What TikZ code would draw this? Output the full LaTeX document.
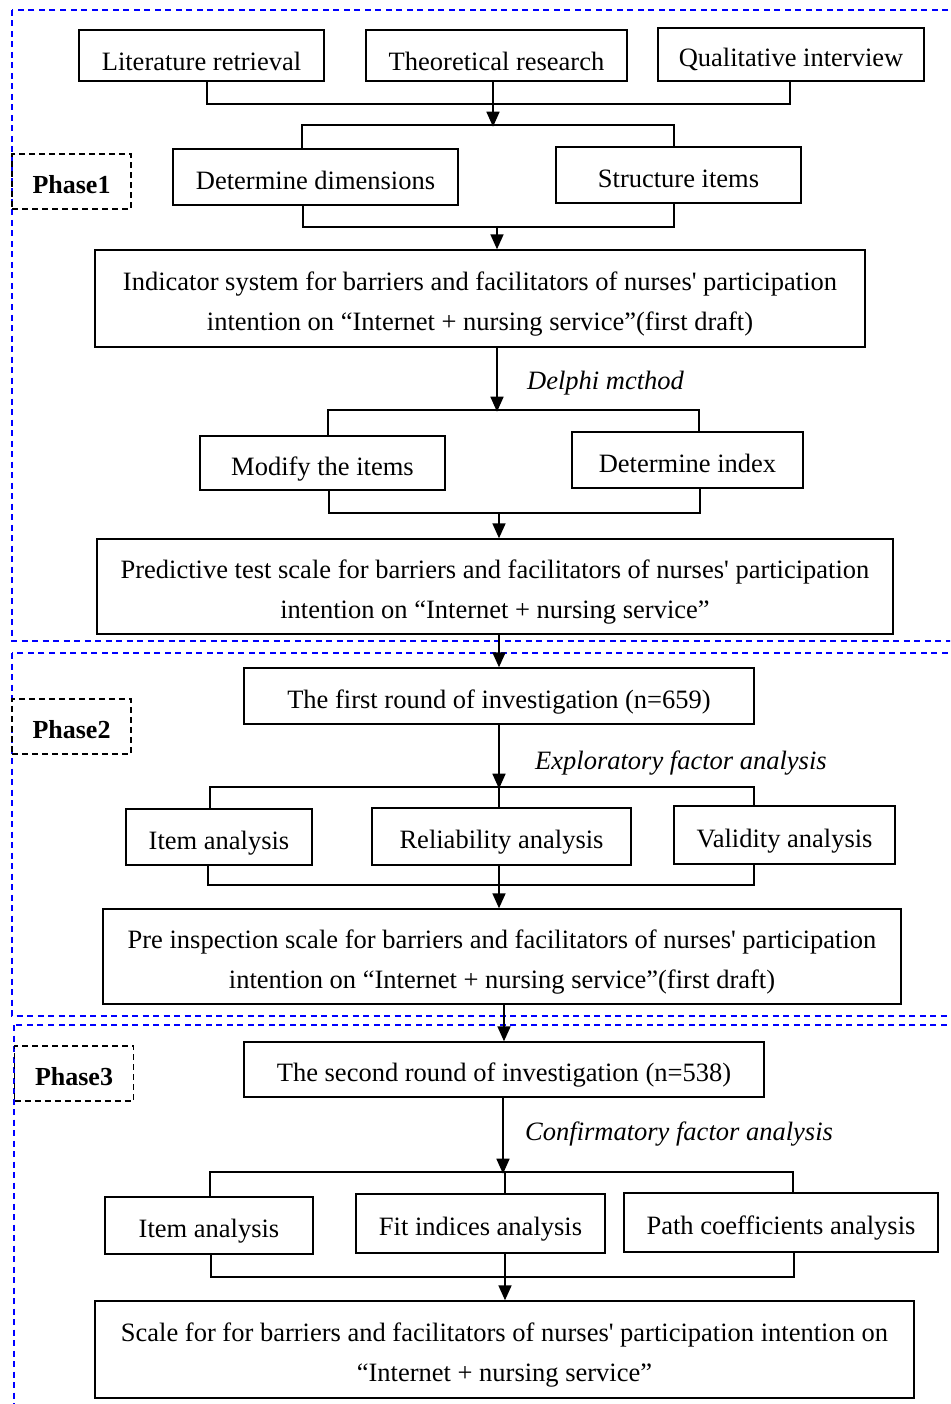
\documentclass[tikz,border=0pt]{standalone}
\usepackage{fontspec}
\newfontfamily\tnr{Liberation Serif}
\usetikzlibrary{arrows.meta}
\tikzset{
  box/.style={draw, line width=1.4pt, inner sep=0pt, align=center, font=\tnr\fontsize{26.5}{40}\selectfont},
  one/.style={text height=24.6pt, text depth=0pt},
  top/.style={text height=30pt, text depth=0pt},
  two/.style={text height=64.5pt, text depth=0pt},
  phasebox/.style={draw, line width=1.3pt, dash pattern=on 6pt off 4pt, inner sep=0pt, text height=24.2pt, text depth=0pt, font=\tnr\bfseries\fontsize{26}{30}\selectfont, minimum width=119pt, minimum height=55pt},
  conn/.style={line width=1.7pt},
  arr/.style={line width=1.7pt, -{Triangle[length=15pt,width=13pt]}},
  lbl/.style={anchor=west, inner sep=0pt, font=\tnr\itshape\fontsize{26.5}{30}\selectfont},
  phase/.style={draw=blue, line width=2pt, dash pattern=on 6pt off 4.5pt}
}
\begin{document}
\begin{tikzpicture}[x=1pt,y=-1pt]
\useasboundingbox (0,0) rectangle (950,1404);
\clip (0,0) rectangle (950,1404);
% phase frames
\draw[phase] (12,10) rectangle (962,641);
\draw[phase] (12,653) rectangle (962,1016);
\draw[phase] (14,1025) rectangle (962,1420);
\node[phasebox] (p1) at (71.5,181.5) {Phase1};
\node[phasebox] (p2) at (71.5,726.5) {Phase2};
\node[phasebox] (p3) at (74,1073.5) {Phase3};
% Phase 1
\node[box, top, minimum width=245pt, minimum height=51pt] (lit) at (201.5,55.5) {Literature retrieval};
\node[box, top, minimum width=261pt, minimum height=51pt] (theo) at (496.5,55.5) {Theoretical research};
\node[box, one, minimum width=266pt, minimum height=53pt] (qual) at (791,54.5) {Qualitative interview};
\node[box, one, minimum width=285pt, minimum height=56pt] (dim) at (315.5,177) {Determine dimensions};
\node[box, one, minimum width=245pt, minimum height=56pt] (struct) at (678.5,175) {Structure items};
\node[box, two, minimum width=770pt, minimum height=97pt] (ind) at (480,298.5) {Indicator system for barriers and facilitators of nurses' participation\\intention on “Internet + nursing service”(first draft)};
\node[box, one, minimum width=245pt, minimum height=54pt] (mod) at (322.5,463) {Modify the items};
\node[box, one, minimum width=231pt, minimum height=56pt] (idx) at (687.5,460) {Determine index};
\node[box, two, minimum width=796pt, minimum height=95pt] (pred) at (495,586.5) {Predictive test scale for barriers and facilitators of nurses' participation\\intention on “Internet + nursing service”};
\draw[conn] ([xshift=5.5pt]lit.south) -- ++(0,22) -| ([xshift=-1pt]qual.south);
\draw[arr] ([xshift=-3.5pt]theo.south) -- ++(0,45);
\draw[conn] ([xshift=-13.5pt]dim.north) -- ++(0,-23) -| ([xshift=-4.5pt]struct.north);
\draw[conn] ([xshift=-12.5pt]dim.south) -- ++(0,21) -| ([xshift=-4.5pt]struct.south);
\coordinate (c1) at (497,226);
\draw[arr] (c1) -- (c1 |- ind.north);
\draw[arr] ([xshift=17pt]ind.south) -- ++(0,64);
\node[lbl] (l1) at (527,383) {Delphi mcthod};
\draw[conn] ([xshift=5.5pt]mod.north) -- ++(0,-25) -| ([xshift=11.5pt]idx.north);
\draw[conn] ([xshift=6.5pt]mod.south) -- ++(0,22) -| ([xshift=12.5pt]idx.south);
\coordinate (c2) at (499,512);
\draw[arr] (c2) -- (c2 |- pred.north);
% Phase 2
\node[box, one, minimum width=510pt, minimum height=56pt] (first) at (499,696) {The first round of investigation (n=659)};
\node[box, one, minimum width=186pt, minimum height=56pt] (itemA) at (219,837) {Item analysis};
\node[box, one, minimum width=259pt, minimum height=57pt] (rel) at (501.5,836.5) {Reliability analysis};
\node[box, one, minimum width=221pt, minimum height=58pt] (val) at (784.5,835) {Validity analysis};
\node[box, two, minimum width=798pt, minimum height=95pt] (pre) at (502,956.5) {Pre inspection scale for barriers and facilitators of nurses' participation\\intention on “Internet + nursing service”(first draft)};
\draw[arr] (first.north |- pred.south) -- (first.north);
\draw[arr] (first.south) -- ++(0,64);
\node[lbl] (l2) at (535,763) {Exploratory factor analysis};
\draw[conn] ([xshift=-9pt]itemA.north) -- ++(0,-21) -| ([xshift=-30.5pt]val.north);
\draw[conn] ([xshift=-2.5pt]rel.north) -- ++(0,-20);
\draw[conn] ([xshift=-11pt]itemA.south) -- ++(0,19) -| ([xshift=-30.5pt]val.south);
\draw[conn] ([xshift=-2.5pt]rel.south) -- ++(0,19);
\coordinate (c3) at (499,884);
\draw[arr] (c3) -- (c3 |- pre.north);
% Phase 3
\node[box, one, minimum width=520pt, minimum height=55pt] (second) at (504,1069.5) {The second round of investigation (n=538)};
\node[box, one, minimum width=208pt, minimum height=57pt] (itemB) at (209,1225.5) {Item analysis};
\node[box, one, minimum width=249pt, minimum height=59pt] (fit) at (480.5,1223.5) {Fit indices analysis};
\node[box, one, minimum width=314pt, minimum height=59pt] (path) at (781,1222.5) {Path coefficients analysis};
\node[box, two, minimum width=819pt, minimum height=97pt] (scale) at (504.5,1349.5) {Scale for for barriers and facilitators of nurses' participation intention on\\“Internet + nursing service”};
\draw[arr] (second.north |- pre.south) -- (second.north);
\draw[arr] ([xshift=-1pt]second.south) -- ++(0,76);
\node[lbl] (l3) at (525,1134) {Confirmatory factor analysis};
\draw[conn] ([xshift=1pt]itemB.north) -- ++(0,-24) -| ([xshift=12pt]path.north);
\draw[conn] ([xshift=24.5pt]fit.north) -- ++(0,-21);
\draw[conn] ([xshift=2pt]itemB.south) -- ++(0,22) -| ([xshift=13pt]path.south);
\draw[conn] ([xshift=24.5pt]fit.south) -- ++(0,23);
\coordinate (c4) at (505,1276);
\draw[arr] (c4) -- (c4 |- scale.north);
\end{tikzpicture}
\end{document}
